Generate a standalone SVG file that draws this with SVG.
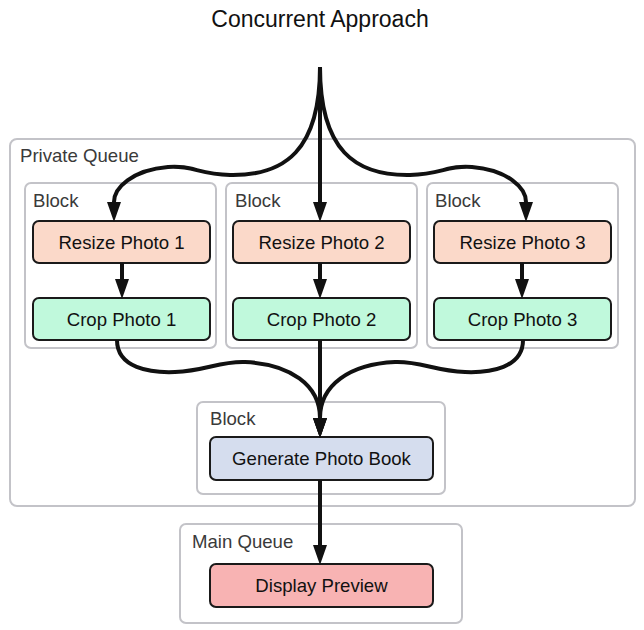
<svg xmlns="http://www.w3.org/2000/svg" width="644" height="630" viewBox="0 0 644 630">
<defs>
<style>
.cont{fill:#ffffff;stroke:#c3c3c8;stroke-width:2}
.box{stroke:#1a1a1a;stroke-width:2}
.resize{fill:#fbd9c9}
.crop{fill:#c0f9dc}
.gen{fill:#d5ddee}
.disp{fill:#f8b3b3}
.clabel{font-family:"Liberation Sans",Arial,sans-serif;font-size:18.6px;fill:#3a3a3a}
.blabel{font-family:"Liberation Sans",Arial,sans-serif;font-size:18.6px;fill:#111;text-anchor:middle}
.title{font-family:"Liberation Sans",Arial,sans-serif;font-size:23px;fill:#111;text-anchor:middle}
.edge{fill:none;stroke:#111;stroke-width:4;marker-end:url(#ah)}
</style>
<marker id="ah" markerUnits="userSpaceOnUse" viewBox="0 0 20 14" refX="0" refY="7" markerWidth="20" markerHeight="14" orient="auto">
<path d="M0,0 L20,7 L0,14 z" fill="#111"/>
</marker>
</defs>
<rect width="644" height="630" fill="#ffffff"/>
<text class="title" x="320" y="27">Concurrent Approach</text>
<g id="private-queue">
<rect class="cont" x="10" y="139" width="625" height="367" rx="7"/>
<text class="clabel" x="20" y="162">Private Queue</text>
</g>
<g id="block1">
<rect class="cont" x="25" y="183" width="191" height="165" rx="6"/>
<text class="clabel" x="33" y="207">Block</text>
</g>
<g id="block2">
<rect class="cont" x="226" y="183" width="191" height="165" rx="6"/>
<text class="clabel" x="235" y="207">Block</text>
</g>
<g id="block3">
<rect class="cont" x="427" y="183" width="191" height="165" rx="6"/>
<text class="clabel" x="435" y="207">Block</text>
</g>
<g id="block4">
<rect class="cont" x="197" y="402" width="248" height="92" rx="6"/>
<text class="clabel" x="210" y="425">Block</text>
</g>
<g id="main-queue">
<rect class="cont" x="180" y="524" width="282" height="99" rx="6"/>
<text class="clabel" x="192" y="548">Main Queue</text>
</g>
<g id="resize1">
<rect class="box resize" x="33" y="221" width="177" height="42" rx="6"/>
<text class="blabel" x="121.5" y="249">Resize Photo 1</text>
</g>
<g id="resize2">
<rect class="box resize" x="233" y="221" width="177" height="42" rx="6"/>
<text class="blabel" x="321.5" y="249">Resize Photo 2</text>
</g>
<g id="resize3">
<rect class="box resize" x="434" y="221" width="177" height="42" rx="6"/>
<text class="blabel" x="522.5" y="249">Resize Photo 3</text>
</g>
<g id="crop1">
<rect class="box crop" x="33" y="298" width="177" height="42" rx="6"/>
<text class="blabel" x="121.5" y="326">Crop Photo 1</text>
</g>
<g id="crop2">
<rect class="box crop" x="233" y="298" width="177" height="42" rx="6"/>
<text class="blabel" x="321.5" y="326">Crop Photo 2</text>
</g>
<g id="crop3">
<rect class="box crop" x="434" y="298" width="177" height="42" rx="6"/>
<text class="blabel" x="522.5" y="326">Crop Photo 3</text>
</g>
<g id="generate">
<rect class="box gen" x="210" y="437" width="223" height="43" rx="6"/>
<text class="blabel" x="321.5" y="465">Generate Photo Book</text>
</g>
<g id="display">
<rect class="box disp" x="210" y="564" width="223" height="43" rx="6"/>
<text class="blabel" x="321.5" y="592">Display Preview</text>
</g>
<g id="connectors">
<path class="edge" d="M320,67 L320,202"/>
<path class="edge" d="M320,67 C320,150 285,176 230,175 C198,174 192,165 168,167 C132,170 114,188 114,202"/>
<path class="edge" d="M320,67 C320,150 355,176 410,175 C442,174 448,165 472,167 C508,170 526,188 526,202"/>
<path class="edge" d="M122,263 L122,279"/>
<path class="edge" d="M320,263 L320,279"/>
<path class="edge" d="M522,263 L522,279"/>
<path class="edge" d="M117,340 C117,368 150,373 175,372 C205,371 220,361 245,362 C290,364 320,385 320,418"/>
<path class="edge" d="M523,340 C523,368 490,373 465,372 C435,371 420,361 395,362 C350,364 320,385 320,418"/>
<path class="edge" d="M320,340 L320,418"/>
<path class="edge" d="M320,480 L320,545"/>
</g>
</svg>
